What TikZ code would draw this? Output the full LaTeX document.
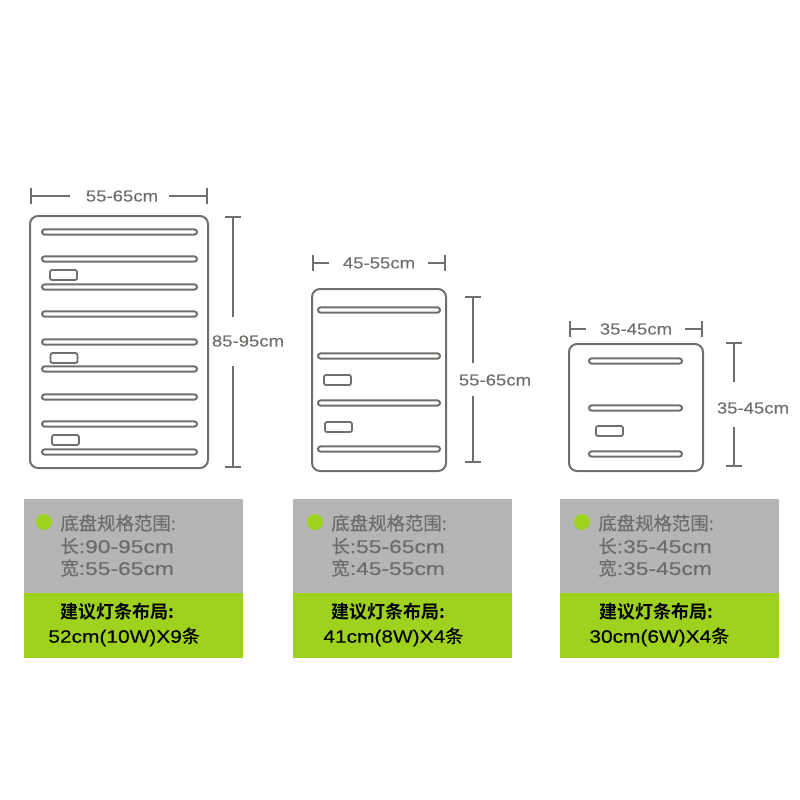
\documentclass[tikz,border=0pt]{standalone}
\usepackage{fontspec}
\setmainfont{Liberation Sans}[FakeStretch=1.16,FakeBold=0.2]
\newfontfamily\cjk{Noto Sans CJK SC}[FakeBold=0.3]
\newfontfamily\cjkbold{Noto Sans CJK SC Bold}
\newfontfamily\widefont{Liberation Sans}[FakeStretch=1.24,FakeBold=0.3]
\usetikzlibrary{arrows.meta}
\definecolor{linegray}{HTML}{6F6F6B}
\definecolor{panelgray}{HTML}{B5B5B5}
\definecolor{panelgreen}{HTML}{9ED21E}
\definecolor{textgray}{HTML}{6C6C6C}
\begin{document}
\begin{tikzpicture}[
    x=0.5pt, y=-0.5pt,
    board/.style={draw=linegray, line width=1pt, rounded corners=4pt, inner sep=0pt},
    bar/.style={draw=linegray, line width=1pt, rounded corners=1.3pt, inner sep=0pt, minimum height=2.6pt},
    slot/.style={draw=linegray, line width=0.9pt, rounded corners=1pt, inner sep=0pt, minimum width=13.5pt, minimum height=5pt},
    dimline/.style={draw=linegray, line width=0.8pt, {Bar[width=8pt,length=0.8pt]}-},
    dimtext/.style={text=linegray, font=\fontsize{8}{8}\selectfont, inner sep=0pt},
    panel/.style={inner sep=0pt, minimum width=109.5pt, anchor=north west},
    dot/.style={circle, fill=panelgreen, inner sep=0pt, minimum size=8pt},
    spec/.style={text=textgray, font=\fontsize{9.2}{9.2}\selectfont\widefont, inner sep=0pt, anchor=west},
    tip/.style={text=black, font=\fontsize{9}{9}\selectfont, inner sep=0pt, anchor=west}
]
\useasboundingbox (0,0) rectangle (800,800);

% Large board
\node[board, minimum width=89pt, minimum height=126pt] (boardA) at (119,342) {};
\node[bar, minimum width=77.5pt] (barA1) at (119.5,232) {};
\node[bar, minimum width=77.5pt] (barA2) at (119.5,259) {};
\node[bar, minimum width=77.5pt] (barA3) at (119.5,287) {};
\node[bar, minimum width=77.5pt] (barA4) at (119.5,314) {};
\node[bar, minimum width=77.5pt] (barA5) at (119.5,342) {};
\node[bar, minimum width=77.5pt] (barA6) at (119.5,369) {};
\node[bar, minimum width=77.5pt] (barA7) at (119.5,397) {};
\node[bar, minimum width=77.5pt] (barA8) at (119.5,424) {};
\node[bar, minimum width=77.5pt] (barA9) at (119.5,452) {};
\node[slot] (slotA1) at (63.5,275) {};
\node[slot] (slotA2) at (64,358) {};
\node[slot] (slotA3) at (65.5,440) {};

% Large board dimensions
\node[dimtext] (widthA) at (122,196) {55-65cm};
\coordinate (widthAl) at (30,196);
\coordinate (widthAr) at (208,196);
\coordinate (gapAl) at (70,196);
\coordinate (gapAr) at (169,196);
\draw[dimline] (widthAl) -- (gapAl);
\draw[dimline] (widthAr) -- (gapAr);
\node[dimtext] (heightA) at (248,341) {85-95cm};
\coordinate (heightAt) at (233,216);
\coordinate (heightAb) at (233,468);
\coordinate (gapAt) at (233,317);
\coordinate (gapAb) at (233,366);
\draw[dimline] (heightAt) -- (gapAt);
\draw[dimline] (heightAb) -- (gapAb);

% Medium board
\node[board, minimum width=67pt, minimum height=91pt] (boardB) at (379,380) {};
\node[bar, minimum width=61pt] (barB1) at (379,310) {};
\node[bar, minimum width=61pt] (barB2) at (379,356) {};
\node[bar, minimum width=61pt] (barB3) at (379,403) {};
\node[bar, minimum width=61pt] (barB4) at (379,449) {};
\node[slot] (slotB1) at (337.5,380) {};
\node[slot] (slotB2) at (338.5,427) {};

% Medium board dimensions
\node[dimtext] (widthB) at (379,263) {45-55cm};
\coordinate (widthBl) at (312,263);
\coordinate (widthBr) at (446,263);
\coordinate (gapBl) at (329,263);
\coordinate (gapBr) at (428,263);
\draw[dimline] (widthBl) -- (gapBl);
\draw[dimline] (widthBr) -- (gapBr);
\node[dimtext] (heightB) at (495,380) {55-65cm};
\coordinate (heightBt) at (473,296);
\coordinate (heightBb) at (473,463);
\coordinate (gapBt) at (473,363);
\coordinate (gapBb) at (473,396);
\draw[dimline] (heightBt) -- (gapBt);
\draw[dimline] (heightBb) -- (gapBb);

% Small board
\node[board, minimum width=67pt, minimum height=63.5pt] (boardC) at (636,407.5) {};
\node[bar, minimum width=46.5pt] (barC1) at (635.5,361) {};
\node[bar, minimum width=46.5pt] (barC2) at (635.5,408) {};
\node[bar, minimum width=46.5pt] (barC3) at (635.5,454) {};
\node[slot] (slotC1) at (609.5,431) {};

% Small board dimensions
\node[dimtext] (widthC) at (636,329) {35-45cm};
\coordinate (widthCl) at (569,329);
\coordinate (widthCr) at (703,329);
\coordinate (gapCl) at (586,329);
\coordinate (gapCr) at (685,329);
\draw[dimline] (widthCl) -- (gapCl);
\draw[dimline] (widthCr) -- (gapCr);
\node[dimtext] (heightC) at (753,408) {35-45cm};
\coordinate (heightCt) at (734,342);
\coordinate (heightCb) at (734,467);
\coordinate (gapCt) at (734,382);
\coordinate (gapCb) at (734,427);
\draw[dimline] (heightCt) -- (gapCt);
\draw[dimline] (heightCb) -- (gapCb);

% Left panel
\node[panel, fill=panelgray, minimum height=47pt] (grayA) at (24,499) {};
\node[panel, fill=panelgreen, minimum height=32.5pt] (greenA) at (24,593) {};
\node[dot] (dotA) at (44,522) {};
\node[spec] (specA1) at (60,523) {\cjk 底盘规格范围:};
\node[spec] (specA2) at (60,546) {{\cjk 长}:90-95cm};
\node[spec] (specA3) at (60,568) {{\cjk 宽}:55-65cm};
\node[tip] (tipA1) at (60,612) {\cjkbold 建议灯条布局:};
\node[tip] (tipA2) at (48,637) {52cm(10W)X9{\cjk 条}};

% Middle panel
\node[panel, fill=panelgray, minimum height=47pt] (grayB) at (293,499) {};
\node[panel, fill=panelgreen, minimum height=32.5pt] (greenB) at (293,593) {};
\node[dot] (dotB) at (315,522) {};
\node[spec] (specB1) at (331,523) {\cjk 底盘规格范围:};
\node[spec] (specB2) at (331,546) {{\cjk 长}:55-65cm};
\node[spec] (specB3) at (331,568) {{\cjk 宽}:45-55cm};
\node[tip] (tipB1) at (331,612) {\cjkbold 建议灯条布局:};
\node[tip] (tipB2) at (323,637) {41cm(8W)X4{\cjk 条}};

% Right panel
\node[panel, fill=panelgray, minimum height=47pt] (grayC) at (560,499) {};
\node[panel, fill=panelgreen, minimum height=32.5pt] (greenC) at (560,593) {};
\node[dot] (dotC) at (582,522) {};
\node[spec] (specC1) at (598,523) {\cjk 底盘规格范围:};
\node[spec] (specC2) at (598,546) {{\cjk 长}:35-45cm};
\node[spec] (specC3) at (598,568) {{\cjk 宽}:35-45cm};
\node[tip] (tipC1) at (599,612) {\cjkbold 建议灯条布局:};
\node[tip] (tipC2) at (589,637) {30cm(6W)X4{\cjk 条}};

\end{tikzpicture}
\end{document}
